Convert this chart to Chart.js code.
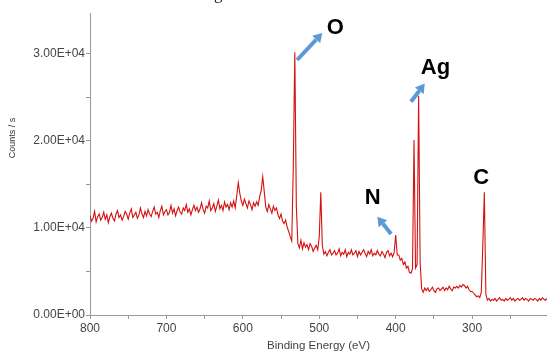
<!DOCTYPE html>
<html>
<head>
<meta charset="utf-8">
<script src="https://cdn.jsdelivr.net/npm/chart.js@4.4.1/dist/chart.umd.min.js"></script>
<style>
  html, body { margin: 0; padding: 0; background: #fff; overflow: hidden; }
  #wrap { position: relative; width: 547px; height: 352px; }
  #cap { position: absolute; left: 214px; top: -15px; font: 17px "Liberation Serif", serif; color: #222; line-height: 17px; }
</style>
</head>
<body>
<div id="wrap">
  <canvas id="xps" width="547" height="352"></canvas>
  <div id="cap">g</div>
</div>
<script>
// survey scan, 800 -> 202 eV in 2 eV steps
const startEV = 800;
const stepEV = 2;

const counts = [
  // 800-782
  11400, 10800, 11100, 11900, 10700, 11300, 11600, 10900, 11200, 11800,
  // 780-762
  11000, 11500, 10600, 11300, 11700, 11100, 10800, 11600, 12000, 11200,
  // 760-742
  11500, 10900, 11300, 11900, 11600, 11000, 11700, 12200, 11200, 11500,
  // 740-722
  11800, 11100, 11500, 12300, 11600, 11200, 11900, 11400, 12100, 11600,
  // 720-702
  11300, 11900, 12400, 11600, 11800, 11200, 12000, 12500, 11500, 11900,
  // 700-682
  12100, 11500, 11800, 12600, 11700, 12200, 11400, 12000, 12400, 11800,
  // 680-662
  11600, 12300, 12000, 12700, 11800, 12200, 11500, 12100, 12600, 12000,
  // 660-642
  12400, 11800, 12200, 12900, 12100, 11700, 12500, 12300, 13100, 12000,
  // 640-622
  12300, 12800, 11900, 12500, 13200, 12200, 12600, 12000, 13000, 12400,
  // 620-602 (Ag 3p1/2)
  12700, 12100, 12900, 12400, 13100, 12300, 13700, 15200, 14000, 13100,
  // 600-582
  12600, 13300, 12800, 12300, 13100, 12700, 12100, 12900, 12500, 13000,
  // 580-562 (Ag 3p3/2)
  12600, 13600, 14300, 15900, 14200, 12400, 11900, 12700, 12200, 11700,
  // 560-542
  12500, 12000, 12300, 11500, 11100, 11600, 10800, 10500, 10900, 10100,
  // 540-522 (O 1s)
  9600, 9000, 8500, 17000, 30200, 12500, 8200, 7700, 8600, 7600,
  // 520-502
  8300, 7800, 8100, 7500, 8200, 7900, 7300, 7700, 8000, 7500,
  // 500-482
  9000, 14100, 8000, 7000, 7300, 6800, 7200, 7500, 6900, 7100,
  // 480-462
  7400, 6900, 7100, 7600, 6800, 7200, 7000, 7500, 6700, 7200,
  // 460-442
  7000, 7500, 6900, 7100, 7400, 6700, 7300, 6900, 7200, 7500,
  // 440-422
  7100, 6700, 7300, 7000, 7500, 6800, 7100, 6900, 7400, 7000,
  // 420-402
  6800, 7300, 7000, 6600, 7200, 7400, 6800, 7100, 6700, 7200,
  // 400-382 (N 1s)
  9200, 6900, 6900, 6300, 6500, 5800, 6100, 5400, 5600, 4900,
  // 380-362 (Ag 3d)
  4800, 5300, 20100, 5400, 5800, 25200, 6000, 3000, 2600, 3100,
  // 360-342
  2800, 3100, 2700, 2900, 3200, 2800, 2600, 3000, 3100, 2800,
  // 340-322
  3000, 3200, 2800, 3100, 2900, 3300, 3000, 2800, 3200, 3100,
  // 320-302
  3300, 3100, 3400, 3200, 3500, 3400, 3100, 3300, 2900, 2700,
  // 300-282 (C 1s)
  2700, 2500, 2300, 2100, 2200, 2000, 2600, 8000, 14100, 2400,
  // 280-262
  1700, 1900, 1600, 1800, 1700, 1900, 1600, 1800, 2000, 1700,
  // 260-242
  1800, 1600, 1900, 1700, 1800, 2000, 1700, 1900, 1600, 1800,
  // 240-222
  1900, 1700, 1800, 2000, 1700, 1900, 1800, 1600, 1900, 1800,
  // 220-202
  1700, 1900, 1800, 1600, 1900, 1700, 2000, 1800, 1700, 1900
];

const energies = counts.map((_, i) => startEV - i * stepEV);

// tick positions; only the round ones get a label
const xTicks = [250, 300, 350, 400, 450, 500, 550, 600, 650, 700, 750, 800];
const yTicks = [0, 5000, 10000, 15000, 20000, 25000, 30000];

// element labels and their arrows, in (eV, counts/s)
const peakNotes = [
  { text: "O",  at: [479, 33000], arrow: [[529, 29300], [496, 32400]] },
  { text: "Ag", at: [348, 28400], arrow: [[380, 24500], [362, 26600]] },
  { text: "N",  at: [430, 13500], arrow: [[406, 9300], [424, 11300]] },
  { text: "C",  at: [288, 15800], arrow: null }
];

function sci(v) {
  if (v === 0) return "0.00E+00";
  const e = Math.floor(Math.log10(v));
  const m = v / Math.pow(10, e);
  return m.toFixed(2) + "E+" + String(e).padStart(2, "0");
}

const notesPlugin = {
  id: "peakNotes",
  afterDatasetsDraw(chart) {
    const { ctx, scales: { x, y } } = chart;
    ctx.save();
    peakNotes.forEach((n) => {
      if (n.arrow) {
        const x0 = x.getPixelForValue(n.arrow[0][0]);
        const y0 = y.getPixelForValue(n.arrow[0][1]);
        const x1 = x.getPixelForValue(n.arrow[1][0]);
        const y1 = y.getPixelForValue(n.arrow[1][1]);
        const ang = Math.atan2(y1 - y0, x1 - x0);
        const head = 9;
        const bx = x1 - head * Math.cos(ang);
        const by = y1 - head * Math.sin(ang);
        ctx.strokeStyle = "#5b9bd5";
        ctx.fillStyle = "#5b9bd5";
        ctx.lineWidth = 4;
        ctx.beginPath();
        ctx.moveTo(x0, y0);
        ctx.lineTo(bx, by);
        ctx.stroke();
        ctx.beginPath();
        ctx.moveTo(x1, y1);
        ctx.lineTo(bx + 5.5 * Math.cos(ang + Math.PI / 2), by + 5.5 * Math.sin(ang + Math.PI / 2));
        ctx.lineTo(bx + 5.5 * Math.cos(ang - Math.PI / 2), by + 5.5 * Math.sin(ang - Math.PI / 2));
        ctx.closePath();
        ctx.fill();
      }
      ctx.fillStyle = "#000";
      ctx.font = "bold 22px 'Liberation Sans', Arial, sans-serif";
      ctx.textAlign = "center";
      ctx.textBaseline = "middle";
      ctx.fillText(n.text, x.getPixelForValue(n.at[0]), y.getPixelForValue(n.at[1]));
    });

    // y axis title sits a little above the axis middle
    ctx.translate(13, 138);
    ctx.rotate(-Math.PI / 2);
    ctx.fillStyle = "#333";
    ctx.font = "9px 'Liberation Sans', Arial, sans-serif";
    ctx.textAlign = "center";
    ctx.textBaseline = "middle";
    ctx.fillText("Counts / s", 0, 0);
    ctx.restore();
  }
};

const axisGray = "#999";
const tickFont = { family: "'Liberation Sans', Arial, sans-serif", size: 12 };

new Chart(document.getElementById("xps"), {
  type: "line",
  data: {
    datasets: [{
      data: energies.map((e, i) => ({ x: e, y: counts[i] })),
      borderColor: "#d41010",
      borderWidth: 1.1,
      pointRadius: 0,
      tension: 0,
      fill: false
    }]
  },
  options: {
    responsive: false,
    animation: false,
    layout: { padding: { top: 13, right: 0, left: 0, bottom: 0 } },
    plugins: { legend: { display: false }, tooltip: { enabled: false } },
    scales: {
      x: {
        type: "linear",
        reverse: true,
        min: 202,
        max: 800,
        border: { display: true, color: axisGray, width: 1 },
        grid: { display: true, drawOnChartArea: false, tickLength: 4, color: axisGray },
        afterBuildTicks: (s) => { s.ticks = xTicks.map((v) => ({ value: v })); },
        ticks: {
          autoSkip: false,
          maxRotation: 0,
          padding: 2,
          color: "#444",
          font: tickFont,
          callback: (v) => (v % 100 === 0 ? String(v) : "")
        },
        title: {
          display: true,
          text: "Binding Energy (eV)",
          color: "#444",
          font: { family: "'Liberation Sans', Arial, sans-serif", size: 11.5 },
          padding: { top: 0, bottom: -1 }
        },
        afterFit: (s) => { s.height = 37; }
      },
      y: {
        min: 0,
        max: 34700,
        border: { display: true, color: axisGray, width: 1 },
        grid: { display: true, drawOnChartArea: false, tickLength: 4, color: axisGray },
        afterBuildTicks: (s) => { s.ticks = yTicks.map((v) => ({ value: v })); },
        ticks: {
          autoSkip: false,
          padding: 1,
          color: "#444",
          font: tickFont,
          callback: (v) => (v % 10000 === 0 ? sci(v) : "")
        },
        afterFit: (s) => { s.width = 90; }
      }
    }
  },
  plugins: [notesPlugin]
});
</script>
</body>
</html>
